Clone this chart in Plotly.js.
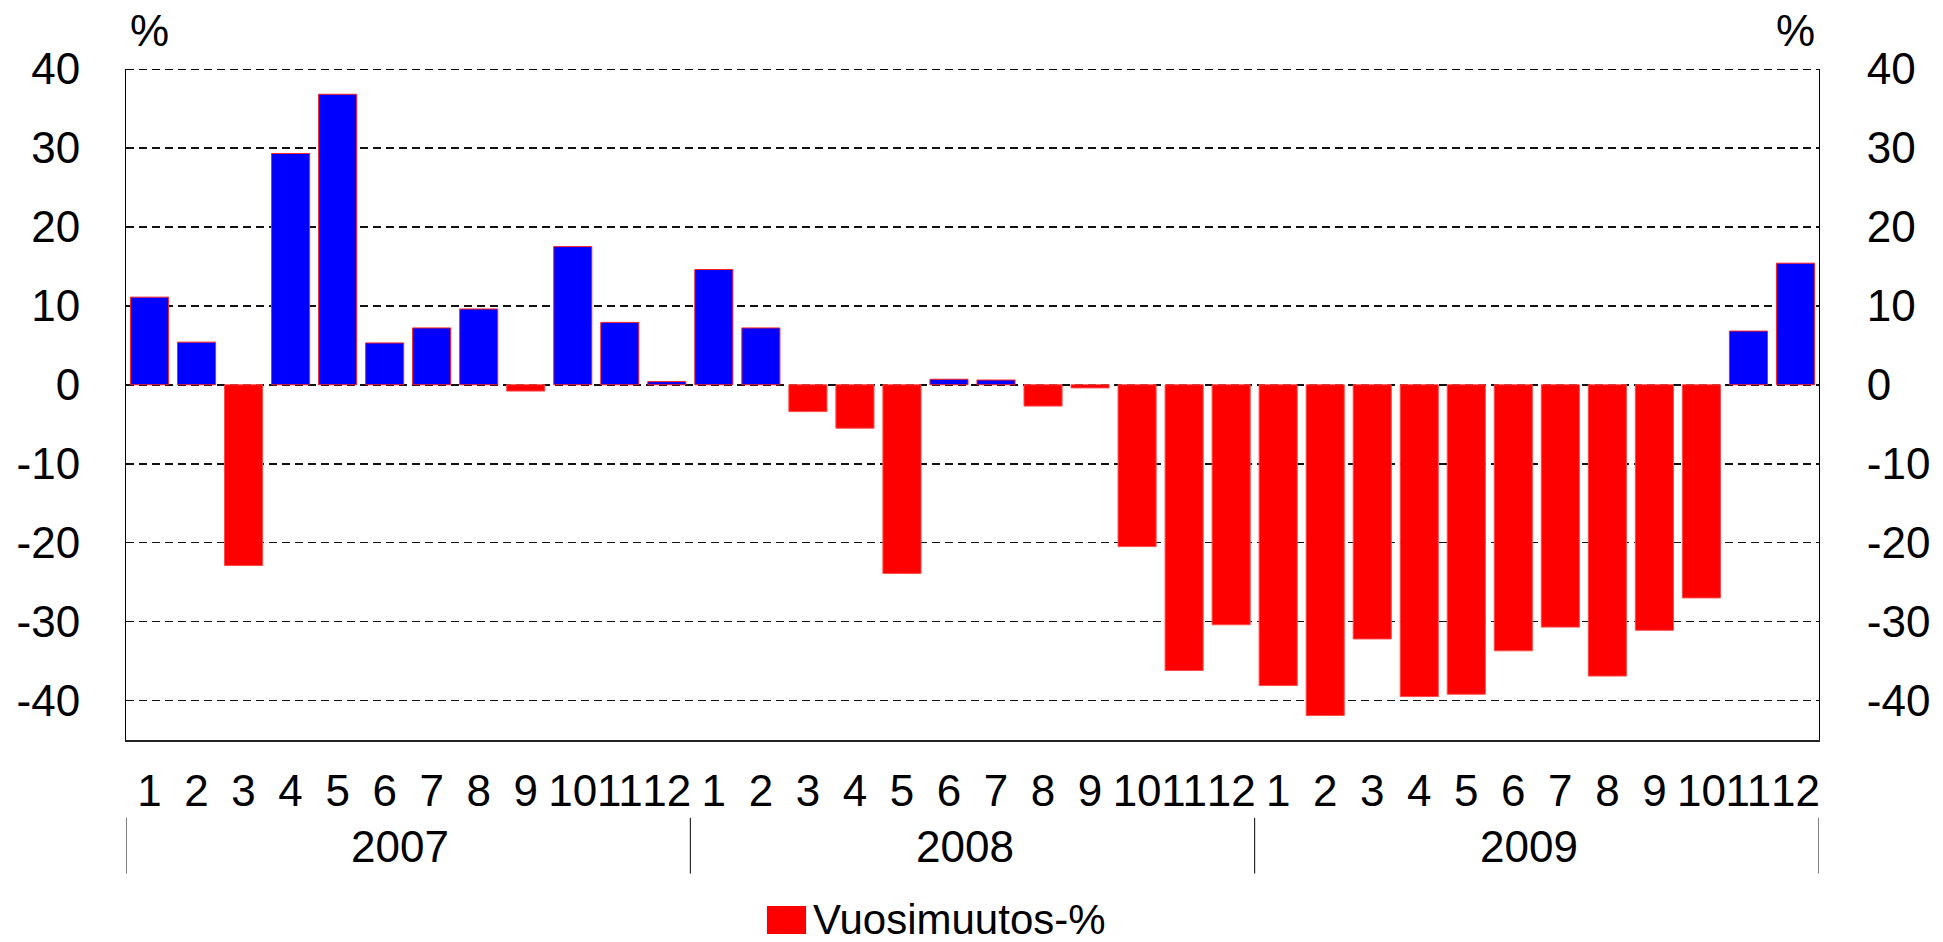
<!DOCTYPE html>
<html>
<head>
<meta charset="utf-8">
<script src="https://cdn.plot.ly/plotly-3.0.1.min.js"></script>
<style>
  html, body { margin: 0; padding: 0; background: #ffffff; }
  #chart { width: 1943px; height: 942px; }
</style>
</head>
<body>
<div id="chart"></div>
<script>
// ---- data ----
const years = ["2007", "2008", "2009"];
const monthLabels = ["1","2","3","4","5","6","7","8","9","10","11","12"];
const values2007 = [11.1, 5.4, -22.9, 29.3, 36.8, 5.3, 7.2, 9.6, -0.8, 17.5, 7.9, 0.4];
const values2008 = [14.6, 7.2, -3.4, -5.5, -23.9, 0.7, 0.6, -2.7, -0.4, -20.5, -36.2, -30.4];
const values2009 = [-38.1, -41.9, -32.2, -39.5, -39.2, -33.7, -30.7, -36.9, -31.1, -27.0, 6.8, 15.4];
const seriesName = "Vuosimuutos-%";
const yTicks = [-40, -30, -20, -10, 0, 10, 20, 30, 40];

// ---- build categories ----
const valuesByYear = [values2007, values2008, values2009];
const categories = [];
const tickText = [];
const values = [];
years.forEach((yr, yi) => {
  monthLabels.forEach((m, mi) => {
    categories.push(yr + "-" + m);
    tickText.push(m);
    values.push(valuesByYear[yi][mi]);
  });
});

const POS = "#0000ff", NEG = "#ff0000";
const barColors = values.map(v => v >= 0 ? POS : NEG);
const lineColors = values.map(v => v >= 0 ? "#ff2020" : "#ff4a4a");

const FONT = "Liberation Sans, Arial, Helvetica, sans-serif";
const FS = 44;
const GRID_DASH = "8px,5px";

const trace = {
  type: "bar",
  x: categories,
  y: values,
  name: seriesName,
  marker: { color: barColors, line: { color: lineColors, width: 1 } },
  showlegend: false,
  hoverinfo: "x+y"
};

// helper trace so that the right-hand value axis is drawn
const rightAxisTrace = {
  type: "scatter", mode: "markers",
  x: [categories[0]], y: [null],
  yaxis: "y2", showlegend: false, hoverinfo: "skip"
};

// year labels and separators derived from category positions
const annotations = [];
const shapes = [];
years.forEach((yr, yi) => {
  const start = yi * monthLabels.length;
  const center = start + (monthLabels.length - 1) / 2;
  annotations.push({
    x: center, xref: "x", y: -0.158, yref: "paper",
    text: yr, showarrow: false, xanchor: "center", yanchor: "middle",
    xshift: -8,
    font: { family: FONT, size: FS, color: "#000" }
  });
});
for (let i = 0; i <= years.length; i++) {
  const xv = i * monthLabels.length - 0.5;
  shapes.push({
    type: "line", xref: "x", yref: "paper",
    x0: xv, x1: xv, y0: -0.116, y1: -0.199,
    line: { color: "#000", width: 1 }
  });
}

// dashed top gridline (at the upper edge of the value range)
shapes.push({
  type: "line", xref: "paper", yref: "y",
  x0: 0, x1: 1, y0: yTicks[yTicks.length - 1], y1: yTicks[yTicks.length - 1],
  line: { color: "#000", width: 2, dash: GRID_DASH }, layer: "above"
});

// "%" unit labels
annotations.push({
  x: 0, xref: "paper", y: 1.057, yref: "paper", text: "%", showarrow: false,
  xanchor: "left", yanchor: "middle", xshift: 2,
  font: { family: FONT, size: FS, color: "#000" }
});
annotations.push({
  x: 1, xref: "paper", y: 1.057, yref: "paper", text: "%", showarrow: false,
  xanchor: "right", yanchor: "middle", xshift: -2,
  font: { family: FONT, size: FS, color: "#000" }
});

// legend (drawn manually to match the large swatch)
shapes.push({
  type: "rect", xref: "paper", yref: "paper",
  x0: 0.3786, x1: 0.4017, y0: -0.2474, y1: -0.2891,
  fillcolor: NEG, line: { width: 0 }
});
annotations.push({
  x: 0.4046, xref: "paper", y: -0.2682, yref: "paper", text: seriesName,
  showarrow: false, xanchor: "left", yanchor: "middle",
  font: { family: FONT, size: 42, color: "#000" }
});

const yAxisCommon = {
  range: [-45, 40],
  tickvals: yTicks,
  ticktext: yTicks.map(String),
  ticks: "",
  showline: true,
  linecolor: "#000",
  linewidth: 1,
  zeroline: false,
  tickfont: { family: FONT, size: FS, color: "#000" },
  fixedrange: true
};

const layout = {
  width: 1943,
  height: 942,
  margin: { l: 126, r: 124, t: 69, b: 202, pad: 0 },
  paper_bgcolor: "#ffffff",
  plot_bgcolor: "#ffffff",
  barmode: "overlay",
  bargap: 0.19,
  showlegend: false,
  font: { family: FONT, size: FS, color: "#000" },
  xaxis: {
    type: "category",
    categoryorder: "array",
    categoryarray: categories,
    range: [-0.5, categories.length - 0.5],
    tickvals: categories,
    ticktext: tickText,
    tickangle: 0,
    ticks: "",
    ticklabelstandoff: 12,
    showline: true,
    linecolor: "#222",
    linewidth: 1.5,
    showgrid: false,
    zeroline: false,
    tickfont: { family: FONT, size: FS, color: "#000" },
    fixedrange: true
  },
  yaxis: Object.assign({}, yAxisCommon, {
    side: "left",
    showgrid: true,
    gridcolor: "#111",
    gridwidth: 1.6,
    griddash: GRID_DASH,
    ticklabelstandoff: 36
  }),
  yaxis2: Object.assign({}, yAxisCommon, {
    side: "right",
    overlaying: "y",
    anchor: "x",
    showgrid: false,
    ticklabelstandoff: 38
  }),
  annotations: annotations,
  shapes: shapes
};

Plotly.newPlot("chart", [trace, rightAxisTrace], layout, { staticPlot: true, displayModeBar: false });
</script>
</body>
</html>
